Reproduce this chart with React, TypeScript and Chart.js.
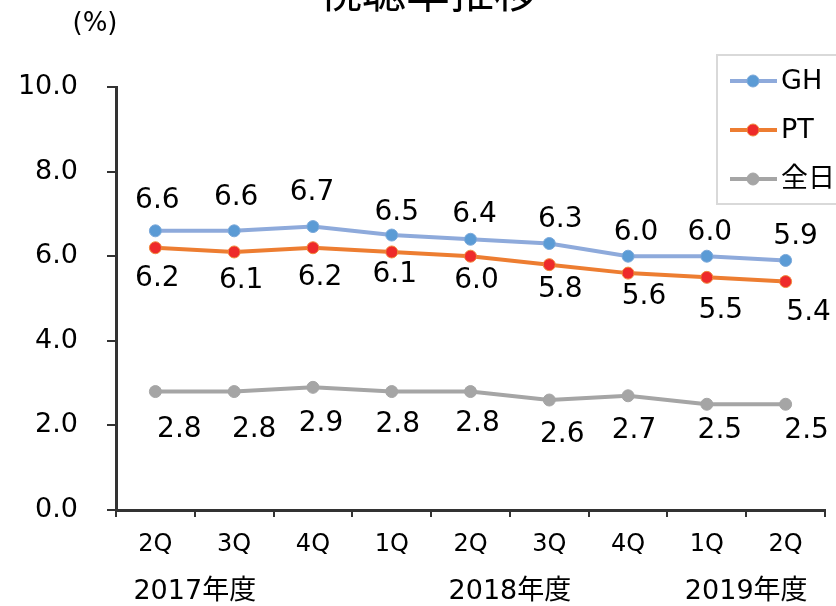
import React, { useEffect, useRef } from 'react';
import { Chart, registerables } from 'chart.js';

Chart.register(...registerables);

const categories = ['2Q', '3Q', '4Q', '1Q', '2Q', '3Q', '4Q', '1Q', '2Q'];
const ghValues = [6.6, 6.6, 6.7, 6.5, 6.4, 6.3, 6.0, 6.0, 5.9];
const ptValues = [6.2, 6.1, 6.2, 6.1, 6.0, 5.8, 5.6, 5.5, 5.4];
const allDayValues = [2.8, 2.8, 2.9, 2.8, 2.8, 2.6, 2.7, 2.5, 2.5];
const seriesNames = ['GH', 'PT', '全日'];
const yearLabels = ['2017年度', '2018年度', '2019年度'];
const yearSpans = [[0, 1], [4, 5], [7, 8]];
const yMin = 0;
const yMax = 10;
const yStep = 2;
const titleText = '視聴率推移';
const unitText = '(%)';

// label placement offsets (px, relative to each point) – styling only
const labelOffsets = [
  [[2, -30], [2, -33], [-1, -34], [5, -22], [4, -25], [11, -24], [8, -23], [3, -23], [10, -24]],
  [[2, 31], [7, 29], [7, 30], [3, 23], [6, 25], [11, 25], [16, 24], [14, 33], [23, 31]],
  [[24, 38], [20, 38], [8, 36], [6, 33], [7, 32], [13, 35], [6, 35], [13, 26], [21, 26]],
];

const FONT = "'DejaVu Sans', 'Noto Sans CJK JP', sans-serif";

const overlayPlugin = {
  id: 'overlay',
  afterDraw(chart: any) {
    const ctx = chart.ctx as CanvasRenderingContext2D;
    ctx.save();
    ctx.fillStyle = '#000';

    // title (cropped at top in the reference)
    ctx.font = "44px 'Noto Sans CJK JP', sans-serif";
    ctx.textAlign = 'center';
    ctx.textBaseline = 'alphabetic';
    ctx.fillText(titleText, 428, 8);

    // unit label
    ctx.font = `26px ${FONT}`;
    ctx.textBaseline = 'middle';
    ctx.fillText(unitText, 95, 24);

    // year labels
    const xs = chart.scales.x;
    ctx.font = `27px ${FONT}`;
    yearLabels.forEach((t, i) => {
      const [a, b] = yearSpans[i];
      const px = (xs.getPixelForValue(a) + xs.getPixelForValue(b)) / 2;
      ctx.fillText(t, px, chart.chartArea.bottom + 82);
    });

    // data labels
    ctx.font = `28px ${FONT}`;
    chart.data.datasets.forEach((ds: any, di: number) => {
      const meta = chart.getDatasetMeta(di);
      meta.data.forEach((pt: any, i: number) => {
        const off = labelOffsets[di][i];
        ctx.fillText(Number(ds.data[i]).toFixed(1), pt.x + off[0], pt.y + off[1]);
      });
    });

    // legend box
    const lx = 717, ly = 55, lw = 150, lh = 149;
    ctx.fillStyle = '#fff';
    ctx.fillRect(lx, ly, lw, lh);
    ctx.strokeStyle = '#d9d9d9';
    ctx.lineWidth = 2;
    ctx.strokeRect(lx, ly, lw, lh);
    ctx.font = `27px ${FONT}`;
    ctx.textAlign = 'left';
    chart.data.datasets.forEach((ds: any, i: number) => {
      const y = ly + 26 + i * 49;
      ctx.strokeStyle = ds.borderColor;
      ctx.lineWidth = ds.borderWidth;
      ctx.beginPath();
      ctx.moveTo(lx + 13, y);
      ctx.lineTo(lx + 60, y);
      ctx.stroke();
      ctx.beginPath();
      ctx.arc(lx + 36, y, 6, 0, Math.PI * 2);
      ctx.fillStyle = ds.pointBackgroundColor;
      ctx.fill();
      ctx.lineWidth = ds.pointBorderWidth;
      ctx.strokeStyle = ds.pointBorderColor;
      ctx.stroke();
      ctx.fillStyle = '#000';
      ctx.fillText(ds.label, lx + 64, y + 1);
    });

    ctx.restore();
  },
};

export default function App() {
  const ref = useRef<HTMLCanvasElement>(null);

  useEffect(() => {
    if (!ref.current) return;
    const chart = new Chart(ref.current, {
      type: 'line',
      data: {
        labels: categories,
        datasets: [
          {
            label: seriesNames[0],
            data: ghValues,
            borderColor: '#8eaadb',
            borderWidth: 4,
            pointBackgroundColor: '#5b9bd5',
            pointBorderColor: '#7aa8da',
            pointBorderWidth: 1,
            pointRadius: 6,
            tension: 0,
          },
          {
            label: seriesNames[1],
            data: ptValues,
            borderColor: '#ed7d31',
            borderWidth: 4,
            pointBackgroundColor: '#ee2a2a',
            pointBorderColor: '#f08a3c',
            pointBorderWidth: 1,
            pointRadius: 6,
            tension: 0,
          },
          {
            label: seriesNames[2],
            data: allDayValues,
            borderColor: '#a5a5a5',
            borderWidth: 4,
            pointBackgroundColor: '#a5a5a5',
            pointBorderColor: '#a5a5a5',
            pointBorderWidth: 1,
            pointRadius: 6,
            tension: 0,
          },
        ],
      } as any,
      options: {
        responsive: false,
        animation: false,
        devicePixelRatio: 1,
        layout: { padding: { top: 87, right: 11, left: 0, bottom: 0 } },
        plugins: {
          legend: { display: false },
          title: { display: false },
          tooltip: { enabled: false },
        },
        scales: {
          x: {
            offset: true,
            grid: {
              offset: true,
              drawOnChartArea: false,
              drawTicks: true,
              tickLength: 7,
              color: '#333',
              lineWidth: 2,
            },
            border: { display: true, color: '#333', width: 3 },
            ticks: {
              font: { size: 24, family: FONT },
              color: '#000',
              padding: 13,
              maxRotation: 0,
              autoSkip: false,
            },
            afterFit: (s: any) => {
              s.height = 96;
            },
          },
          y: {
            min: yMin,
            max: yMax,
            ticks: {
              stepSize: yStep,
              callback: (v: any) => Number(v).toFixed(1),
              font: { size: 27, family: FONT },
              color: '#000',
              padding: 29,
            },
            grid: {
              drawOnChartArea: false,
              tickLength: 9,
              color: '#333',
              lineWidth: 2,
            },
            border: { display: true, color: '#333', width: 3 },
            afterFit: (s: any) => {
              s.width = 116;
            },
          },
        },
      } as any,
      plugins: [overlayPlugin],
    });
    return () => chart.destroy();
  }, []);

  return (
    <div style={{ position: 'fixed', left: 0, top: 0, width: 836, height: 606, background: '#fff' }}>
      <canvas ref={ref} width={836} height={606} style={{ display: 'block', width: 836, height: 606 }} />
    </div>
  );
}
